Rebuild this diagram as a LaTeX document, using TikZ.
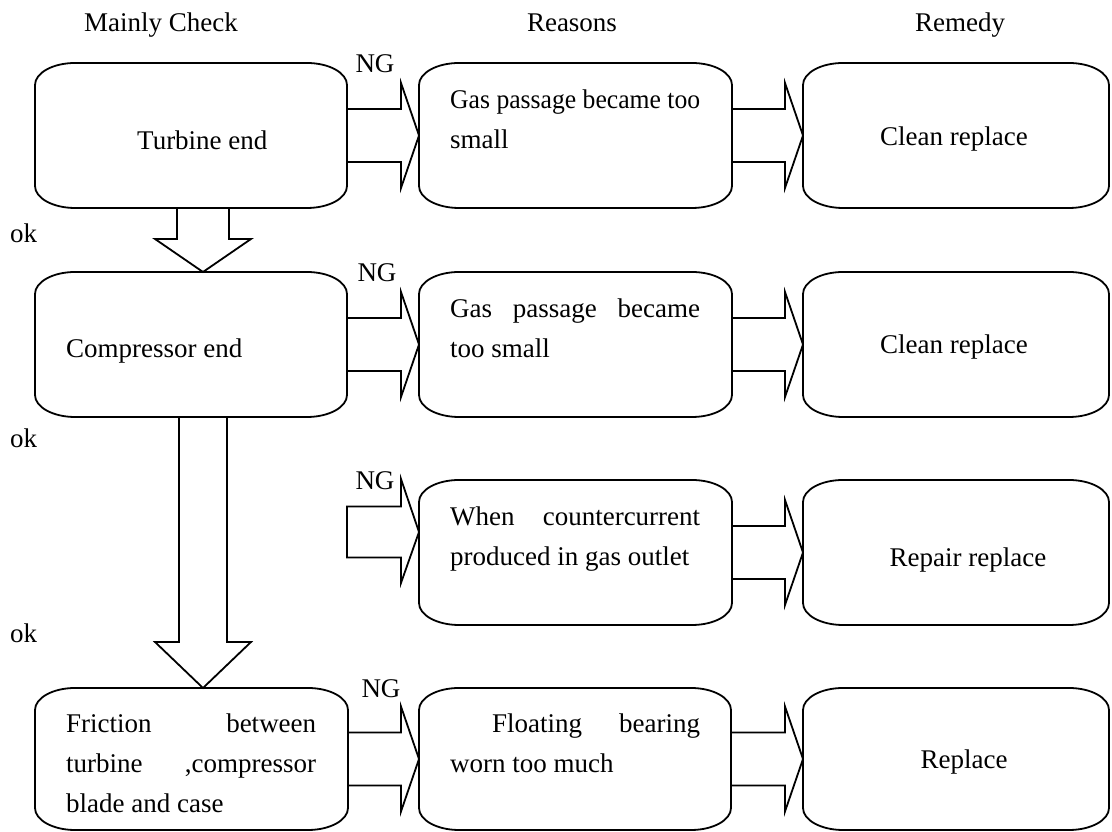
\documentclass[tikz,border=0pt]{standalone}
\usepackage{fontspec}
\setmainfont{Liberation Serif}
\usepackage{graphicx}
\usetikzlibrary{calc}

\newcommand\rbx[1]{%
 \draw[boxline] ([xshift=40pt]#1.north west) -- ([xshift=-40pt]#1.north east)
   arc[start angle=90,end angle=0,x radius=40pt,y radius=22pt]
   -- ([yshift=22pt]#1.south east)
   arc[start angle=0,end angle=-90,x radius=40pt,y radius=22pt]
   -- ([xshift=40pt]#1.south west)
   arc[start angle=270,end angle=180,x radius=40pt,y radius=22pt]
   -- ([yshift=-22pt]#1.north west)
   arc[start angle=180,end angle=90,x radius=40pt,y radius=22pt] -- cycle;}

\newcommand\harr[2]{%
 \draw[arrline] ([yshift=26.5pt]#1.east) -- ([xshift=-18pt,yshift=26.5pt]#2.west)
   -- ([xshift=-18pt,yshift=52.5pt]#2.west) -- (#2.west)
   -- ([xshift=-18pt,yshift=-52.5pt]#2.west) -- ([xshift=-18pt,yshift=-26.5pt]#2.west)
   -- ([yshift=-26.5pt]#1.east);}

\tikzset{
  boxline/.style={line width=1.8pt},
  arrline/.style={line width=1.8pt, line join=miter},
  box/.style={inner sep=0pt, outer sep=0pt, draw=none},
  txt/.style={inner sep=0pt, anchor=base west},
  ctxt/.style={inner sep=0pt, anchor=base},
}

\begin{document}
\begin{tikzpicture}[x=1pt,y=1pt,font=\fontsize{27}{40}\selectfont]
\fill[white] (0,0) rectangle (1112,832);
\useasboundingbox (0,0) rectangle (1112,832);

% boxes
\node[box, minimum width=312pt, minimum height=145pt] (L1) at (191,696.5) {};
\node[box, minimum width=313pt, minimum height=145pt] (M1) at (575.5,696.5) {};
\node[box, minimum width=306pt, minimum height=145pt] (R1) at (956,696.5) {};
\node[box, minimum width=312pt, minimum height=145pt] (L2) at (191,487.5) {};
\node[box, minimum width=313pt, minimum height=145pt] (M2) at (575.5,487.5) {};
\node[box, minimum width=306pt, minimum height=145pt] (R2) at (956,487.5) {};
\node[box, minimum width=313pt, minimum height=145pt] (M3) at (575.5,279.5) {};
\node[box, minimum width=306pt, minimum height=145pt] (R3) at (956,279.5) {};
\node[box, minimum width=313pt, minimum height=142pt] (L4) at (191.5,73) {};
\node[box, minimum width=312pt, minimum height=142pt] (M4) at (575,73) {};
\node[box, minimum width=306pt, minimum height=142pt] (R4) at (956,73) {};

\rbx{L1}\rbx{M1}\rbx{R1}
\rbx{L2}\rbx{M2}\rbx{R2}
\rbx{M3}\rbx{R3}
\rbx{L4}\rbx{M4}\rbx{R4}

% horizontal block arrows
\harr{L1}{M1}\harr{M1}{R1}
\harr{L2}{M2}\harr{M2}{R2}
\harr{M3}{R3}
\harr{L4}{M4}\harr{M4}{R4}

% row 3 NG arrow (free start)
\coordinate (s3) at (347,300);
\draw[arrline] ([yshift=25.5pt]s3) -- ($([yshift=20.5pt]M3.west)+(-18,25.5)$)
  -- ($([yshift=20.5pt]M3.west)+(-18,53)$) -- ([yshift=20.5pt]M3.west)
  -- ($([yshift=20.5pt]M3.west)+(-18,-51)$) -- ($([yshift=20.5pt]M3.west)+(-18,-25.5)$)
  -- ([yshift=-25.5pt]s3) -- cycle;

% down block arrows
\draw[arrline] ($(L1.south)+(-14,0)$) -- ($(L2.north)+(-14,33)$) -- ($(L2.north)+(-36,33)$)
  -- ($(L2.north)+(12,0)$) -- ($(L2.north)+(60,33)$) -- ($(L2.north)+(38,33)$)
  -- ($(L1.south)+(38,0)$);
\draw[arrline] ($(L2.south)+(-12,0)$) -- ($(L4.north)+(-12.5,46)$) -- ($(L4.north)+(-36.5,46)$)
  -- ($(L4.north)+(11.5,0)$) -- ($(L4.north)+(59.5,46)$) -- ($(L4.north)+(35.5,46)$)
  -- ($(L2.south)+(36,0)$);

% titles
\node[ctxt] (h1) at (161,800) {Mainly Check};
\node[ctxt] (h2) at (572,800) {Reasons};
\node[ctxt] (h3) at (960,800) {Remedy};

% ok labels
\node[txt] (ok1) at (10,589) {ok};
\node[txt] (ok2) at (10,384) {ok};
\node[txt] (ok3) at (10,189) {ok};

% NG labels
\node[ctxt] (ng1) at (375,759) {NG};
\node[ctxt] (ng2) at (377,550) {NG};
\node[ctxt] (ng3) at (375,342) {NG};
\node[ctxt] (ng4) at (381,134) {NG};

% left texts
\node[txt] (tl1) at (137,682) {Turbine end};
\node[txt] (tl2) at (66,474) {Compressor end};
\node[txt] (tl4) at (66,99) {\parbox[t]{250pt}{\makebox[250pt][s]{Friction between}\\\makebox[250pt][s]{turbine ,compressor}\\blade and case}};

% middle texts
\node[txt] (tm1) at (450,723) {\parbox[t]{250pt}{\resizebox{250pt}{\height}{Gas passage became too}\\small}};
\node[txt] (tm2) at (450,514) {\parbox[t]{250pt}{\makebox[250pt][s]{Gas passage became}\\too small}};
\node[txt] (tm3) at (450,306) {\parbox[t]{250pt}{\makebox[250pt][s]{When countercurrent}\\produced in gas outlet}};
\node[txt] (tm4) at (450,99) {\parbox[t]{250pt}{\hspace*{42pt}\makebox[208pt][s]{Floating bearing}\\worn too much}};

% right texts
\node[ctxt] (tr1) at (954,686) {Clean replace};
\node[ctxt] (tr2) at (954,478) {Clean replace};
\node[ctxt] (tr3) at (968,265) {Repair replace};
\node[ctxt] (tr4) at (964,63) {Replace};
\end{tikzpicture}
\end{document}
